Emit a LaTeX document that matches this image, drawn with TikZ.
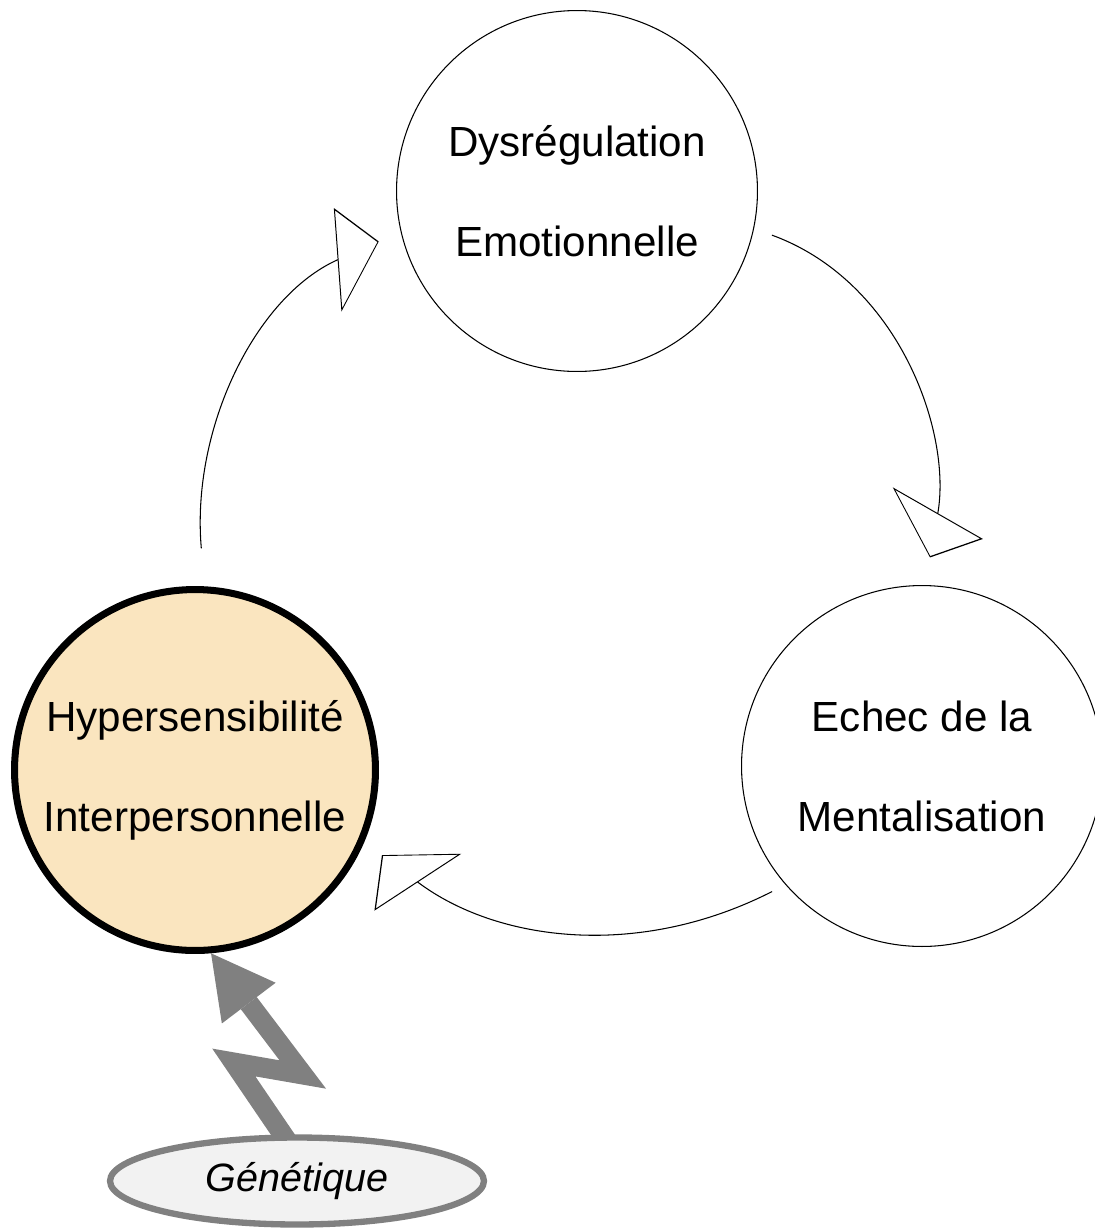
\documentclass[tikz,border=0pt]{standalone}
\usepackage{fontspec}
\setmainfont{Liberation Sans}
\usetikzlibrary{arrows.meta,shapes.geometric,backgrounds}
\definecolor{hyperfill}{HTML}{FAE5BF}
\definecolor{boltgray}{HTML}{808080}
\definecolor{genfill}{HTML}{F2F2F2}

\begin{document}
\begin{tikzpicture}[x=0.02cm, y=-0.02cm,
  stage/.style={circle, draw, line width=0.6pt, minimum size=7.22cm, inner sep=0pt, align=center, font=\fontsize{24}{57}\selectfont},
  cyclearrow/.style={line width=0.6pt, -{Triangle[length=0.9cm, width=1.95cm, slant=0.36, fill=white]}}]
\useasboundingbox (0,0) rectangle (1095,1231);
\node[stage] (dys) at (577,191) {Dysrégulation\\Emotionnelle};
\node[stage] (echec) at (922,766) {Echec de la\\Mentalisation};
\node[stage, line width=4pt, fill=hyperfill] (hyper) at (195,770) {Hypersensibilité\\Interpersonnelle};
\node[ellipse, draw=boltgray, line width=3.6pt, fill=genfill, minimum width=7.48cm, minimum height=1.74cm, inner sep=0pt, font=\fontsize{22.5}{27}\selectfont\itshape] (gen) at (297,1181) {Génétique};
\draw[cyclearrow, shorten <=0.76cm, shorten >=0.48cm] (hyper.87) to[out=95, in=204] (dys.193);
\draw[cyclearrow, shorten <=0.38cm, shorten >=0.56cm] (dys.-12) to[out=-20, in=80] (echec.89);
\draw[cyclearrow, shorten <=0.3cm, shorten >=0.44cm] (echec.221) to[out=207, in=323] (hyper.-23);
\begin{scope}[on background layer]
\draw[boltgray, line width=0.4cm, -{Triangle[length=1.25cm, width=1.35cm, line width=0pt]}, shorten <=-0.2cm] (gen.107) -- ++(-49,-72) -- ++(69,12) -- (hyper.-85);
\end{scope}
\end{tikzpicture}
\end{document}
